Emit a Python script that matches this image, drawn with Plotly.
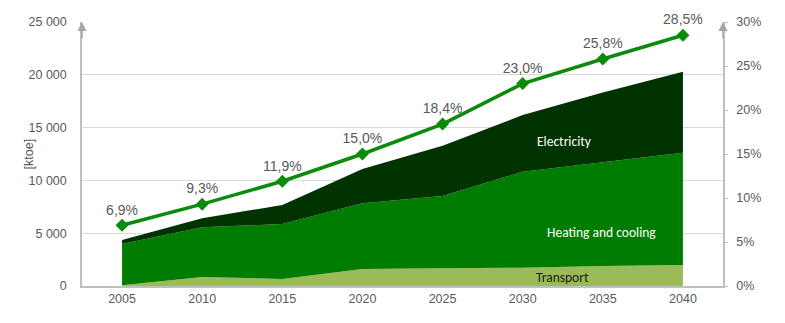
import plotly.graph_objects as go

years = [2005, 2010, 2015, 2020, 2025, 2030, 2035, 2040]
transport = [60, 850, 660, 1600, 1680, 1730, 1900, 1990]
heating = [3920, 4710, 5210, 6230, 6840, 9090, 9810, 10630]
electricity = [380, 850, 1800, 3250, 4770, 5370, 6610, 7670]
res_share = [6.9, 9.3, 11.9, 15.0, 18.4, 23.0, 25.8, 28.5]

left_ticks = [0, 5000, 10000, 15000, 20000, 25000]
right_ticks = [0, 5, 10, 15, 20, 25, 30]

fam = "Liberation Sans Narrow, Arial Narrow, Liberation Sans, Arial"
tick_font = dict(family=fam, size=12.5, color="#595959")
grey = "#bfbfbf"

fig = go.Figure()
fig.add_trace(go.Scatter(x=years, y=transport, stackgroup="a", mode="none",
                         fillcolor="#9bbb59", name="Transport"))
fig.add_trace(go.Scatter(x=years, y=heating, stackgroup="a", mode="none",
                         fillcolor="#007c00", name="Heating and cooling"))
fig.add_trace(go.Scatter(x=years, y=electricity, stackgroup="a", mode="none",
                         fillcolor="#013301", name="Electricity"))
fig.add_trace(go.Scatter(x=years, y=res_share, yaxis="y2", mode="lines+markers+text",
                         line=dict(color="#0b8a0b", width=3.5),
                         marker=dict(symbol="diamond", size=10, color="#0b8a0b"),
                         text=[f"{v:.1f}%".replace(".", ",") for v in res_share],
                         textposition="top center", cliponaxis=False,
                         textfont=dict(family=fam, size=14, color="#595959"),
                         name="Share"))

area_font = "Carlito, Calibri, Noto Sans, Open Sans, sans-serif"
fig.add_annotation(x=2032.6, y=13700, text="Electricity", showarrow=False,
                   font=dict(family=area_font, size=13.5, color="white"))
fig.add_annotation(x=2034.9, y=5100, text="Heating and cooling", showarrow=False,
                   font=dict(family=area_font, size=13.5, color="white"))
fig.add_annotation(x=2032.5, y=760, text="Transport", showarrow=False,
                   font=dict(family=area_font, size=13.5, color="#1a1a1a"))

# y-axis title
fig.add_annotation(x=-0.082, y=0.5, xref="paper", yref="paper", text="[ktoe]",
                   xanchor="center", yanchor="middle",
                   textangle=-90, showarrow=False, font=dict(family=fam, size=12.5, color="#595959"))

# axis arrowheads
for xp in (0, 1):
    fig.add_annotation(x=xp, y=1.0, ax=0, ay=18, xref="paper", yref="paper",
                       text="", showarrow=True, standoff=0,
                       arrowhead=2, arrowsize=1.2, arrowwidth=1.5, arrowcolor="#a6a6a6")

fig.update_layout(
    width=785, height=323,
    margin=dict(l=82, r=62, t=22, b=37, autoexpand=False),
    paper_bgcolor="white", plot_bgcolor="white",
    showlegend=False,
    separators=", ",
    xaxis=dict(range=[2002.5, 2042.5], tickvals=years, ticks="", showgrid=False,
               showline=True, linecolor=grey, linewidth=1.5, tickfont=tick_font,
               zeroline=False, automargin=False),
    yaxis=dict(range=[0, 25000], tickvals=left_ticks, tickformat=",d", showgrid=True,
               gridcolor="#d9d9d9", gridwidth=1, showline=True, linecolor=grey,
               linewidth=1.5, tickfont=tick_font, zeroline=False, ticks="",
               automargin=False, ticklabelstandoff=11),
    yaxis2=dict(range=[0, 30], tickmode="array", tickvals=right_ticks,
                ticktext=[f"{v}%" for v in right_ticks], overlaying="y",
                side="right", showgrid=False, showline=True, linecolor=grey, linewidth=1.5,
                ticks="outside", ticklen=3, tickcolor=grey, tickfont=tick_font,
                zeroline=False, automargin=False, ticklabelstandoff=6),
)

fig.write_html("out.html")
